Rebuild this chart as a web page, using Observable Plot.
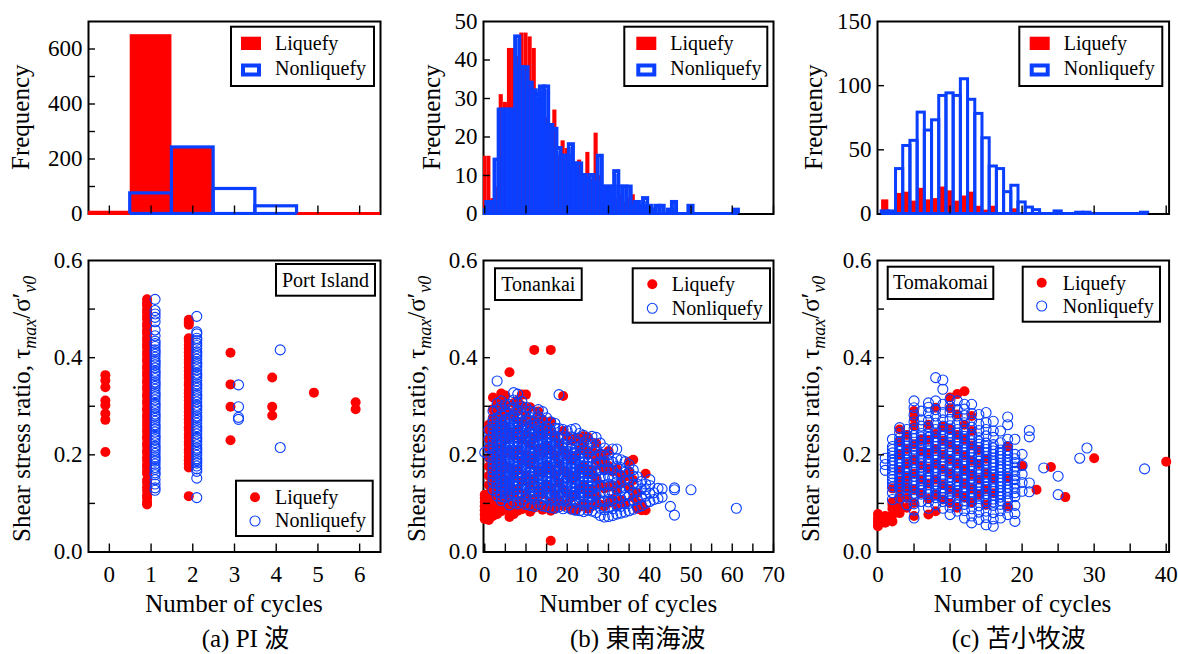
<!DOCTYPE html>
<html>
<head>
<meta charset="utf-8">
<script src="https://cdn.jsdelivr.net/npm/d3@7"></script>
<script src="https://cdn.jsdelivr.net/npm/@observablehq/plot@0.6"></script>
<style>
  body { margin: 0; background: #fff; }
  #chart { position: relative; width: 1178px; height: 654px; background: #fff; overflow: hidden; }
  #chart svg { position: absolute; }
</style>
</head>
<body>
<div id="chart"></div>
<script>
const RED = "#ff0000";
const BLUE = "#0a3fff";
const SERIF = "'Liberation Serif', 'Times New Roman', serif";
const CJK = "'Liberation Serif', 'Noto Sans CJK JP', serif";

// ---- text ----
const seriesNames = ["Liquefy", "Nonliquefy"];
const siteNames = ["Port Island", "Tonankai", "Tomakomai"];
const captions = ["(a) PI 波", "(b) 東南海波", "(c) 苫小牧波"];
const freqLabel = "Frequency";
const cycleLabel = "Number of cycles";

// ---- histogram counts, one value per cycle bin (index = number of cycles) ----
const piLiqFreq = [10, 652, 240, 4, 3, 1, 2];
const piNonFreq = [0, 75, 242, 91, 28, 0, 0];

const tonLiqFreq = [15,15,4,7,31,29,43,43,41,47, 47,46,43,28,30,25,23,27,15,19,
                    17,12,13,14,10,16,9,21,10,6, 6,5,4,5,3,4,5,2,2,2, 1,1];
const tonNonFreq = [1,3,3,14,27,27,27,27,46,38, 38,34,32,31,33,33,23,22,17,15,
                    15,18,13,13,10,9,10,8,15,7, 7,7,11,7,7,7,2,3,2,4,
                    2,1,2,2,0,1,3,0,0,0, 2,0,0,0,0,0,0,0,0,0, 0,1];

const tomLiqFreq = [0,11,0,16,17,10,20,11,12,21, 18,10,14,17,6,3,6,0,0,4];
const tomNonFreq = [0,2,2,35,53,57,79,65,73,92, 94,92,105,89,78,59,37,35,17,22,
                    9,5,3,0,0,2,0,0,1,1, 0,0,0,0,0,0,0,1];

// ---- shear stress ratio by number of cycles: [cycles, [ratios]] ----
const piLiq = [
  [0, [.206,.272,.285,.302,.312,.339,.353,.364]],
  [1, [.098,.103,.111,.117,.126,.133,.142,.148,.161,.167,.175,.18,.189,.195,.204,.209,.218,.224,.233,.238,
       .247,.253,.261,.268,.276,.282,.291,.296,.305,.311,.32,.325,.334,.34,.349,.354,.363,.369,.377,.383,
       .392,.398,.406,.412,.421,.427,.435,.441,.45,.456,.464,.47,.479,.485,.493,.499,.508,.513,.52]],
  [2, [.115,.174,.181,.189,.196,.205,.211,.22,.227,.235,.242,.251,.257,.266,.273,.281,.288,.297,.303,.312,
       .319,.327,.334,.343,.349,.358,.365,.373,.38,.389,.395,.404,.411,.419,.426,.435,.44,.468,.473,.478]],
  [3, [.23,.299,.345,.41]],
  [4, [.281,.299,.359]],
  [5, [.328]],
  [6, [.294,.308]]
];
const piNon = [
  [1, [.127,.132,.14,.149,.159,.163,.17,.174,.181,.187,.192,.196,.203,.209,.214,.218,.225,.231,.236,.24,
       .247,.253,.258,.262,.269,.275,.28,.284,.291,.297,.302,.306,.313,.319,.324,.328,.335,.341,.346,.35,
       .357,.363,.368,.372,.379,.385,.39,.394,.401,.407,.412,.416,.423,.429,.434,.445,.457,.474,.483,.49,.497,.52]],
  [2, [.112,.152,.166,.171,.177,.183,.188,.192,.199,.205,.21,.214,.221,.227,.232,.236,.243,.249,.254,.258,
       .265,.271,.276,.28,.287,.293,.298,.302,.309,.315,.32,.324,.331,.337,.342,.346,.353,.359,.364,.368,
       .375,.381,.386,.39,.397,.403,.408,.412,.419,.425,.43,.436,.44,.449,.453,.485]],
  [3, [.273,.277,.299,.344]],
  [4, [.215,.416]]
];

const tonLiq = [
  [0, [.068,.077,.086,.094,.103,.111,.118]],
  [1, [.066,.075,.084,.093,.101,.11,.12,.138,.157,.176,.194,.213,.232,.251,.262]],
  [2, [.074,.083,.092,.101,.112,.124,.146,.165,.184,.203,.222,.24,.259,.277,.294,.318]],
  [3, [.078,.094,.109,.128,.151,.171,.193,.214,.236,.255,.273,.29,.305]],
  [4, [.084,.098,.117,.139,.162,.187,.215,.244,.268,.289,.309,.326]],
  [5, [.088,.102,.119,.148,.177,.203,.231,.258,.281,.302,.322]],
  [6, [.072,.086,.101,.136,.172,.208,.246,.286,.37]],
  [7, [.078,.093,.118,.157,.198,.239,.278,.306]],
  [8, [.085,.099,.128,.168,.209,.252,.291,.312]],
  [9, [.088,.107,.146,.189,.231,.268,.301,.324]],
  [10, [.092,.118,.158,.2,.243,.281,.324]],
  [11, [.083,.101,.137,.18,.222,.262,.298]],
  [12, [.091,.109,.151,.193,.234,.27,.416]],
  [13, [.098,.128,.169,.211,.252,.289]],
  [14, [.087,.119,.162,.203,.241,.272]],
  [15, [.094,.138,.178,.219,.259]],
  [16, [.023,.085,.102,.132,.171,.209,.247,.268,.416]],
  [17, [.089,.118,.158,.198,.238]],
  [18, [.098,.107,.142,.181,.222]],
  [19, [.094,.129,.168,.208,.249,.321]],
  [20, [.099,.121,.162,.201,.238]],
  [21, [.088,.112,.151,.19,.229]],
  [22, [.086,.118,.157,.197,.234]],
  [23, [.093,.131,.171,.21,.232]],
  [24, [.1,.136,.176,.218,.238]],
  [25, [.089,.121,.163,.2,.236]],
  [26, [.094,.128,.168,.207]],
  [27, [.101,.114,.152,.189,.224]],
  [28, [.098,.139,.178,.203]],
  [29, [.094,.131,.169,.19]],
  [30, [.101,.134,.177,.208]],
  [31, [.109,.136,.166]],
  [32, [.097,.128,.171]],
  [33, [.107,.142,.158]],
  [34, [.101,.155]],
  [35, [.134,.165,.186]],
  [36, [.112,.148,.19]],
  [37, [.089,.101,.121]],
  [38, [.086,.099]],
  [39, [.086,.161]]
];
const tonNon = [
  [0, [.205]],
  [1, [.197,.214,.232,.251]],
  [2, [.128,.143,.152,.161,.169,.176,.185,.194,.201,.208,.217,.226,.233,.24,.249,.258,.265,.272,.29]],
  [3, [.115,.124,.133,.141,.147,.156,.165,.172,.18,.189,.197,.204,.212,.221,.229,.236,.244,.253,.261,.268,.276,.293,.306,.352]],
  [4, [.106,.114,.121,.13,.139,.146,.154,.163,.171,.179,.187,.195,.203,.211,.219,.228,.236,.243,.251,.259,.268,.283,.299,.311]],
  [5, [.112,.12,.127,.136,.144,.152,.16,.168,.176,.184,.193,.2,.208,.216,.225,.233,.241,.249,.257,.265,.273,.289,.303]],
  [6, [.097,.116,.123,.131,.14,.149,.157,.164,.173,.181,.189,.197,.205,.214,.221,.229,.238,.246,.254,.262,.27,.277,.294,.304]],
  [7, [.102,.12,.128,.136,.145,.153,.161,.169,.177,.185,.193,.201,.21,.218,.226,.234,.242,.25,.258,.266,.274,.282,.298,.313,.328]],
  [8, [.099,.113,.121,.129,.138,.146,.154,.162,.17,.178,.186,.194,.202,.21,.218,.226,.234,.242,.251,.259,.267,.275,.291,.307,.325]],
  [9, [.104,.122,.13,.138,.146,.155,.163,.171,.179,.187,.195,.204,.212,.22,.228,.236,.244,.252,.26,.268,.284,.299,.31]],
  [10, [.098,.111,.119,.127,.135,.143,.151,.159,.167,.175,.183,.191,.2,.208,.216,.224,.232,.24,.248,.256,.264,.272,.288,.298]],
  [11, [.096,.115,.123,.132,.14,.149,.157,.165,.173,.181,.189,.197,.205,.213,.221,.229,.237,.245,.253,.261,.277,.29]],
  [12, [.094,.109,.117,.124,.132,.14,.148,.156,.164,.172,.18,.188,.196,.204,.212,.22,.228,.236,.244,.252,.26,.268,.287]],
  [13, [.099,.117,.125,.134,.142,.15,.158,.166,.175,.183,.191,.199,.207,.215,.223,.231,.239,.247,.255,.263,.279,.293]],
  [14, [.095,.108,.116,.125,.133,.141,.149,.157,.165,.173,.181,.189,.197,.205,.213,.222,.23,.238,.246,.254,.27,.289]],
  [15, [.093,.112,.12,.129,.137,.146,.154,.162,.17,.178,.186,.194,.202,.21,.218,.226,.234,.242,.25,.258,.276]],
  [16, [.091,.106,.114,.122,.13,.138,.146,.154,.162,.17,.178,.186,.194,.202,.21,.218,.226,.234,.242,.25,.268]],
  [17, [.09,.109,.118,.127,.135,.143,.151,.159,.167,.175,.183,.191,.199,.207,.215,.223,.231,.239,.255,.265]],
  [18, [.093,.105,.113,.121,.129,.137,.145,.153,.161,.169,.177,.185,.193,.201,.209,.217,.225,.233,.254,.324]],
  [19, [.089,.108,.117,.125,.134,.142,.15,.158,.166,.174,.182,.19,.198,.206,.214,.222,.238,.252]],
  [20, [.092,.104,.112,.12,.128,.136,.144,.152,.16,.168,.176,.184,.192,.2,.208,.216,.232,.249]],
  [21, [.088,.107,.116,.124,.133,.141,.149,.157,.165,.173,.181,.189,.197,.205,.213,.221,.237,.252]],
  [22, [.086,.101,.109,.117,.125,.133,.141,.149,.157,.165,.173,.181,.189,.197,.205,.213,.229,.254]],
  [23, [.085,.104,.113,.121,.13,.138,.146,.154,.162,.17,.178,.186,.194,.202,.218,.234,.244]],
  [24, [.083,.098,.106,.114,.122,.13,.138,.146,.154,.162,.17,.178,.186,.194,.21,.226,.24]],
  [25, [.086,.103,.112,.12,.129,.137,.145,.153,.161,.169,.177,.185,.201,.217,.232]],
  [26, [.084,.097,.105,.113,.121,.129,.137,.145,.153,.161,.169,.177,.193,.209,.224,.238]],
  [27, [.081,.1,.117,.134,.15,.166,.182,.198,.214,.236]],
  [28, [.075,.09,.106,.122,.138,.154,.17,.186,.202,.224]],
  [29, [.072,.087,.104,.121,.137,.153,.169,.185,.2,.214]],
  [30, [.073,.092,.108,.124,.14,.156,.172,.188,.2]],
  [31, [.075,.089,.105,.121,.137,.153,.169,.185,.212]],
  [32, [.078,.095,.112,.128,.144,.16,.176,.192,.212]],
  [33, [.08,.094,.11,.126,.142,.158,.174,.19]],
  [34, [.082,.099,.116,.132,.148,.164,.186]],
  [35, [.085,.1,.116,.132,.148,.165,.18]],
  [36, [.088,.106,.123,.14,.156,.169]],
  [37, [.092,.108,.124,.14,.155]],
  [38, [.095,.113,.13,.145]],
  [39, [.1,.115,.128,.14]],
  [40, [.104,.121,.137,.149]],
  [41, [.108,.122]],
  [42, [.11,.131]],
  [43, [.113,.13]],
  [45, [.094]],
  [46, [.076,.128,.132]],
  [50, [.128]],
  [61, [.09]]
];

const tomLiq = [
  [0, [.053,.058,.064,.07,.078]],
  [1, [.06,.067,.074]],
  [2, [.063,.076,.089,.097,.103,.131]],
  [3, [.08,.097,.11,.128,.146,.169,.2,.228,.252]],
  [4, [.091,.111,.132,.153,.181,.212,.241]],
  [5, [.074,.101,.129,.161,.19,.222,.259,.276,.29]],
  [6, [.121,.149,.178,.207,.232]],
  [7, [.077,.109,.141,.172,.203,.231,.262]],
  [8, [.084,.118,.149,.181,.212,.243,.297]],
  [9, [.108,.138,.171,.2,.229,.258]],
  [10, [.101,.129,.162,.191,.221,.252,.296,.318]],
  [11, [.091,.121,.152,.182,.211,.241,.283,.325]],
  [12, [.112,.141,.169,.199,.231,.262,.331]],
  [13, [.102,.131,.159,.188,.219,.249,.28]],
  [14, [.118,.149,.181,.21]],
  [15, [.097,.129,.162,.192]],
  [16, [.121,.151]],
  [18, [.094,.152,.217]],
  [20, [.177]],
  [22, [.128]],
  [24, [.175]],
  [26, [.113]],
  [30, [.193]],
  [40, [.186]]
];
const tomNon = [
  [1, [.168,.18,.193]],
  [2, [.108,.122,.134,.142,.149,.155,.161,.169,.176,.183,.189,.197,.204,.211,.217,.232]],
  [3, [.111,.125,.132,.139,.146,.152,.159,.166,.173,.18,.187,.194,.2,.207,.214,.221,.228,.235,.246,.256]],
  [4, [.097,.113,.126,.134,.141,.148,.154,.161,.169,.176,.182,.189,.197,.204,.21,.218,.225,.232,.238,.252]],
  [5, [.07,.086,.099,.113,.121,.128,.135,.141,.148,.156,.163,.169,.176,.184,.19,.197,.205,.212,.219,.226,.233,.24,.254,.268,.282,.297,.311]],
  [6, [.104,.119,.126,.132,.14,.147,.153,.16,.168,.175,.181,.188,.196,.203,.209,.216,.224,.231,.237,.244,.259,.272,.29]],
  [7, [.09,.103,.118,.125,.131,.139,.146,.152,.159,.167,.174,.18,.187,.195,.202,.208,.215,.223,.23,.236,.243,.258,.271,.286,.298,.307]],
  [8, [.097,.112,.118,.125,.133,.14,.146,.153,.161,.168,.174,.181,.189,.196,.202,.209,.217,.224,.23,.237,.245,.252,.265,.28,.293,.311,.359]],
  [9, [.09,.104,.112,.119,.126,.132,.14,.147,.154,.16,.168,.175,.182,.188,.196,.203,.21,.216,.224,.231,.238,.244,.252,.259,.272,.287,.304,.335,.354]],
  [10, [.077,.092,.105,.112,.12,.127,.133,.141,.148,.155,.161,.169,.176,.183,.189,.197,.204,.211,.217,.225,.232,.239,.245,.253,.26,.273,.288,.3,.314]],
  [11, [.084,.097,.112,.119,.125,.133,.14,.147,.153,.161,.168,.175,.181,.189,.196,.203,.209,.217,.224,.231,.237,.245,.252,.265,.28,.293,.311]],
  [12, [.07,.085,.098,.106,.113,.12,.126,.134,.141,.148,.154,.162,.169,.176,.182,.19,.197,.204,.21,.218,.225,.232,.238,.246,.253,.266,.281,.294,.304]],
  [13, [.06,.074,.089,.102,.11,.117,.124,.13,.138,.145,.152,.158,.166,.173,.18,.186,.194,.201,.208,.214,.222,.229,.236,.242,.257,.27,.285,.304]],
  [14, [.067,.082,.095,.11,.117,.123,.131,.138,.144,.151,.159,.166,.172,.179,.187,.194,.2,.207,.215,.222,.228,.235,.25,.263,.283]],
  [15, [.056,.071,.084,.099,.106,.112,.12,.127,.133,.14,.148,.155,.161,.168,.176,.183,.189,.196,.204,.211,.217,.224,.239,.252,.266,.287]],
  [16, [.053,.068,.081,.096,.103,.109,.117,.124,.13,.137,.145,.152,.158,.165,.173,.18,.186,.193,.201,.208,.214,.221,.236,.249,.269]],
  [17, [.07,.085,.098,.106,.113,.12,.126,.134,.141,.147,.154,.162,.169,.175,.182,.19,.197,.203,.21,.225,.249]],
  [18, [.077,.092,.105,.112,.12,.127,.133,.141,.148,.154,.161,.169,.176,.182,.189,.197,.204,.21,.217,.232,.262,.278]],
  [19, [.063,.079,.096,.114,.122,.131,.14,.149,.157,.166,.175,.184,.192,.201,.232]],
  [20, [.125,.143,.16,.178,.201]],
  [21, [.124,.142,.237,.25]],
  [23, [.173]],
  [25, [.118,.156]],
  [28, [.193]],
  [29, [.214]],
  [37, [.171]]
];

// ---- helpers ----
const points = cols => cols.flatMap(([x, ys]) => ys.map(y => ({x, y})));
const bins = freq => freq.map((v, k) => ({k, v})).filter(d => d.v > 0);
const firstEdge = freq => freq.findIndex(v => v > 0) - 0.5;
const lastEdge = freq => freq.length - 1 - [...freq].reverse().findIndex(v => v > 0) + 0.5;

const root = document.getElementById("chart");
const ML = 90, MR = 12, MT = 12, MB = 44;

function panel([fx, fy, fw, fh], o) {
  const svg = Plot.plot({
    width: ML + fw + MR, height: MT + fh + MB,
    marginLeft: ML, marginRight: MR, marginTop: MT, marginBottom: MB,
    x: {domain: o.xDomain, axis: o.xLabels ? undefined : null},
    y: {domain: o.yDomain},
    style: {background: "none", overflow: "visible", fontFamily: SERIF, fontSize: "23px", color: "#000"},
    marks: [
      Plot.frame({stroke: "#000", strokeWidth: 2}),
      ...o.marks,
      Plot.tickX(o.xTicks, {x: d => d, insetTop: fh - 8, stroke: "#000", strokeWidth: 1.4}),
      Plot.tickY(o.yTicks, {y: d => d, insetRight: fw - 7, stroke: "#000", strokeWidth: 1.4}),
      o.xLabels ? Plot.axisX(o.xLabels, {tickSize: 0, tickPadding: 14, label: null, fontSize: 23}) : null,
      Plot.axisY(o.yLabels, {tickSize: 0, tickPadding: 6, label: null, fontSize: 23, tickFormat: o.yFormat})
    ]
  });
  svg.style.left = (fx - ML) + "px";
  svg.style.top = (fy - MT) + "px";
  root.appendChild(svg);
}

// bars of one bin per cycle count; zero-count bins still show as a base line
function histMarks(liq, non, domain, outline) {
  const lo = e => Math.max(domain[0], e), hi = e => Math.min(domain[1], e);
  return [
    Plot.ruleY([0], {x1: lo(firstEdge(liq)), x2: hi(lastEdge(liq)), stroke: RED, strokeWidth: 3, dy: -0.5}),
    Plot.rect(bins(liq), {x1: d => d.k - 0.5, x2: d => d.k + 0.5, y1: 0, y2: "v", fill: RED, clip: true}),
    Plot.ruleY([0], {x1: lo(firstEdge(non)), x2: hi(lastEdge(non)), stroke: BLUE, strokeWidth: 3, dy: -0.5}),
    Plot.rect(bins(non), {x1: d => d.k - 0.5, x2: d => d.k + 0.5, y1: 0, y2: "v",
      fill: "none", stroke: BLUE, strokeWidth: outline, clip: true})
  ];
}

function scatterMarks(liq, non, shift) {
  return [
    Plot.dot(points(liq), {x: "x", y: "y", r: 5, fill: RED, dx: -shift}),
    Plot.dot(points(non), {x: "x", y: "y", r: 5, fill: "none", stroke: BLUE, strokeWidth: 1.1, dx: shift})
  ];
}

const ratioFmt = d => d.toFixed(1);
const TOP_Y = 21, TOP_H = 192.5, BOT_Y = 260, BOT_H = 291.5;

const columns = [
  {fx: 88, fw: 292, xDomain: [-0.5, 6.5]},
  {fx: 483.3, fw: 290, xDomain: [-0.3, 70]},
  {fx: 876.7, fw: 291.6, xDomain: [-0.07, 40.4]}
];

// (a) Port Island
panel([88, TOP_Y, 292, TOP_H], {
  xDomain: columns[0].xDomain, yDomain: [0, 700],
  xTicks: [0,1,2,3,4,5,6], yTicks: [100,200,300,400,500,600], yLabels: [0,200,400,600],
  marks: histMarks(piLiqFreq, piNonFreq, columns[0].xDomain, 3.2)
});
panel([88, BOT_Y, 292, BOT_H], {
  xDomain: columns[0].xDomain, yDomain: [0, 0.6],
  xTicks: [0,1,2,3,4,5,6], xLabels: [0,1,2,3,4,5,6],
  yTicks: [0.1,0.2,0.3,0.4,0.5], yLabels: [0,0.2,0.4,0.6], yFormat: ratioFmt,
  marks: scatterMarks(piLiq, piNon, 4)
});

// (b) Tonankai
panel([483.3, TOP_Y, 290, TOP_H], {
  xDomain: columns[1].xDomain, yDomain: [0, 50],
  xTicks: [0,10,20,30,40,50,60,70], yTicks: [10,20,30,40], yLabels: [0,10,20,30,40,50],
  marks: histMarks(tonLiqFreq, tonNonFreq, columns[1].xDomain, 4)
});
panel([483.3, BOT_Y, 290, BOT_H], {
  xDomain: columns[1].xDomain, yDomain: [0, 0.6],
  xTicks: [0,5,10,15,20,25,30,35,40,45,50,55,60,65,70], xLabels: [0,10,20,30,40,50,60,70],
  yTicks: [0.1,0.2,0.3,0.4,0.5], yLabels: [0,0.2,0.4,0.6], yFormat: ratioFmt,
  marks: scatterMarks(tonLiq, tonNon, 0)
});

// (c) Tomakomai
panel([876.7, TOP_Y, 291.6, TOP_H], {
  xDomain: columns[2].xDomain, yDomain: [0, 150],
  xTicks: [10,20,30,40], yTicks: [50,100], yLabels: [0,50,100,150],
  marks: histMarks(tomLiqFreq, tomNonFreq, columns[2].xDomain, 3)
});
panel([876.7, BOT_Y, 291.6, BOT_H], {
  xDomain: columns[2].xDomain, yDomain: [0, 0.6],
  xTicks: [5,10,15,20,25,30,35,40], xLabels: [0,10,20,30,40],
  yTicks: [0.1,0.2,0.3,0.4,0.5], yLabels: [0,0.2,0.4,0.6], yFormat: ratioFmt,
  marks: scatterMarks(tomLiq, tomNon, 0)
});

// ---- titles, captions and legends ----
const ov = d3.select(root).append("svg")
  .attr("width", 1178).attr("height", 654)
  .style("left", "0px").style("top", "0px")
  .attr("font-family", SERIF).attr("fill", "#000");

const freqX = [29, 440.3, 822];
const shearX = [30, 425.3, 818.7];
const captionX = [201.7, 570, 951.7];

columns.forEach((c, i) => {
  ov.append("text")
    .attr("transform", `translate(${freqX[i]},${TOP_Y + TOP_H / 2}) rotate(-90)`)
    .attr("text-anchor", "middle").attr("font-size", 25).text(freqLabel);

  const t = ov.append("text")
    .attr("transform", `translate(${shearX[i]},542) rotate(-90)`)
    .attr("font-size", 25);
  t.append("tspan").text("Shear stress ratio, τ");
  t.append("tspan").attr("font-style", "italic").attr("font-size", 18).attr("dy", 6).text("max");
  t.append("tspan").attr("dy", -6).text("/σ′");
  t.append("tspan").attr("font-style", "italic").attr("font-size", 18).attr("dy", 6).text("v0");

  ov.append("text")
    .attr("x", c.fx + c.fw / 2).attr("y", 611.5)
    .attr("text-anchor", "middle").attr("font-size", 25).text(cycleLabel);

  ov.append("text")
    .attr("x", captionX[i]).attr("y", 647)
    .attr("font-family", CJK).attr("font-size", 25).text(captions[i]);

  // histogram legend
  const lx = c.fx + c.fw - 149;
  ov.append("rect").attr("x", lx).attr("y", 26.7).attr("width", 143).attr("height", 59.3)
    .attr("fill", "#fff").attr("stroke", "#000").attr("stroke-width", 2);
  ov.append("rect").attr("x", c.fx + 153).attr("y", 36.7).attr("width", 20).attr("height", 13.3).attr("fill", RED);
  ov.append("rect").attr("x", c.fx + 155).attr("y", 65.5).attr("width", 16).attr("height", 9)
    .attr("fill", "#fff").attr("stroke", BLUE).attr("stroke-width", 4);
  ov.append("text").attr("x", c.fx + 187).attr("y", 50).attr("font-size", 20).text(seriesNames[0]);
  ov.append("text").attr("x", c.fx + 187).attr("y", 75).attr("font-size", 20).text(seriesNames[1]);
});

// scatter legends: box [x, y, w, h], marker x, marker rows, text x, text baselines
const scatterLegends = [
  {box: [236, 480.7, 136.7, 55.3], mx: 255, my: [497.3, 521], tx: 275, ty: [503.5, 527]},
  {box: [632.7, 268.3, 137.3, 54.4], mx: 652.3, my: [284.3, 308.3], tx: 671.7, ty: [291, 314.5]},
  {box: [1022.7, 266.7, 137.3, 55], mx: 1041.7, my: [282.7, 306], tx: 1062.7, ty: [289.5, 313]}
];
scatterLegends.forEach(L => {
  ov.append("rect").attr("x", L.box[0]).attr("y", L.box[1]).attr("width", L.box[2]).attr("height", L.box[3])
    .attr("fill", "#fff").attr("stroke", "#000").attr("stroke-width", 2);
  ov.append("circle").attr("cx", L.mx).attr("cy", L.my[0]).attr("r", 5).attr("fill", RED);
  ov.append("circle").attr("cx", L.mx).attr("cy", L.my[1]).attr("r", 5)
    .attr("fill", "none").attr("stroke", BLUE).attr("stroke-width", 1.1);
  ov.append("text").attr("x", L.tx).attr("y", L.ty[0]).attr("font-size", 20).text(seriesNames[0]);
  ov.append("text").attr("x", L.tx).attr("y", L.ty[1]).attr("font-size", 20).text(seriesNames[1]);
});

// site name boxes
const siteBoxes = [
  {box: [276, 264, 99, 31.7], ty: 286.7},
  {box: [495, 268.3, 86.7, 31.7], ty: 290.7},
  {box: [887.7, 266.7, 105.6, 32.3], ty: 289.3}
];
siteBoxes.forEach((s, i) => {
  ov.append("rect").attr("x", s.box[0]).attr("y", s.box[1]).attr("width", s.box[2]).attr("height", s.box[3])
    .attr("fill", "#fff").attr("stroke", "#000").attr("stroke-width", 2);
  ov.append("text").attr("x", s.box[0] + s.box[2] / 2).attr("y", s.ty)
    .attr("text-anchor", "middle").attr("font-size", 20).text(siteNames[i]);
});
</script>
</body>
</html>
